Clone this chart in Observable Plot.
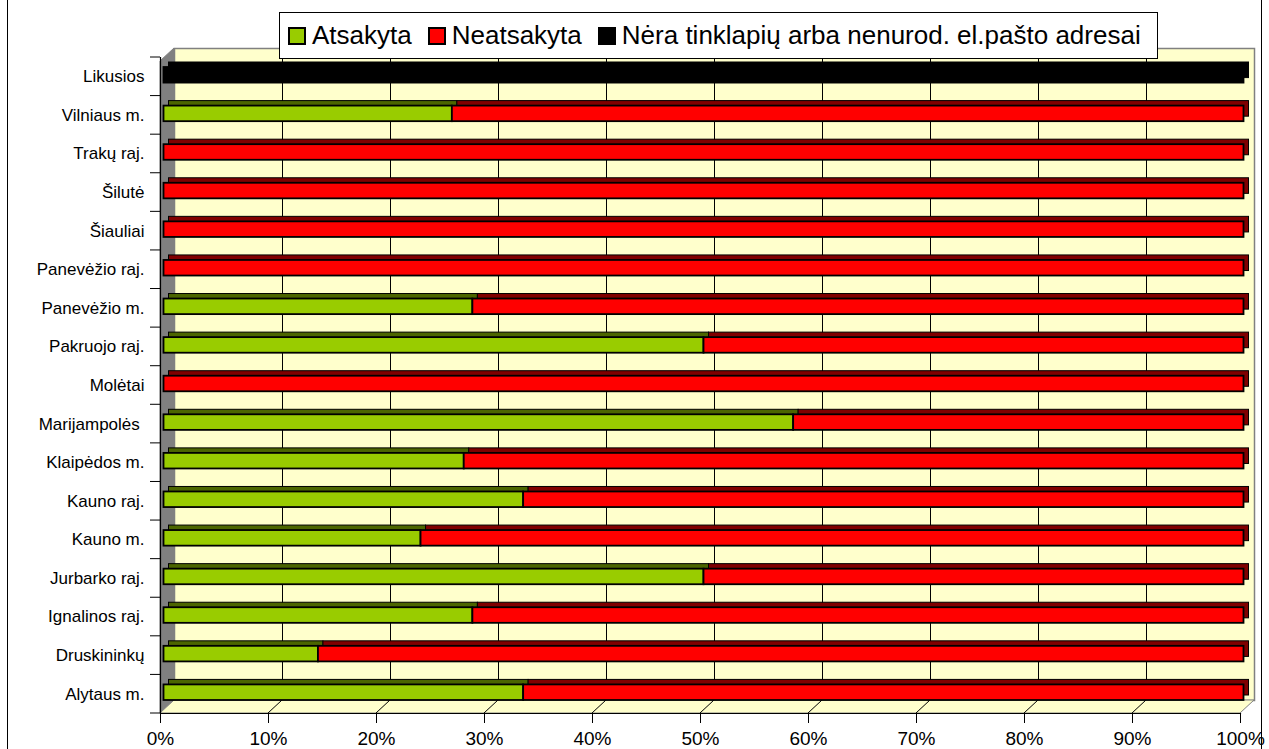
<!DOCTYPE html>
<html>
<head>
<meta charset="utf-8">
<script src="https://cdn.jsdelivr.net/npm/d3@7"></script>
<script src="https://cdn.jsdelivr.net/npm/@observablehq/plot@0.6"></script>
<style>
  html, body { margin: 0; padding: 0; background: #fff; }
  #wrap { position: relative; width: 1269px; height: 749px; overflow: hidden; font-family: "Liberation Sans", Arial, sans-serif; }
  #border { position: absolute; left: 7px; top: -3px; width: 1255px; height: 760px; border: 1px solid #000; box-sizing: border-box; }
  #chart { position: absolute; left: 0; top: 0; }
  #legend { position: absolute; left: 279px; top: 12px; width: 879px; height: 47px; box-sizing: border-box;
            border: 1px solid #000; background: #fff; display: flex; align-items: center; padding-left: 8px;
            font-size: 26px; color: #000; white-space: nowrap; }
  .item { display: flex; align-items: center; margin-right: 16px; }
  .sw { width: 14px; height: 14px; border: 2px solid #000; margin-right: 6px; }
</style>
</head>
<body>
<div id="wrap">
  <div id="border"></div>
  <div id="chart"></div>
  <div id="legend"></div>
</div>
<script>
const categories = ["Likusios","Vilniaus m.","Trakų raj.","Šilutė","Šiauliai","Panevėžio raj.","Panevėžio m.","Pakruojo raj.","Molėtai","Marijampolės ","Klaipėdos m.","Kauno raj.","Kauno m.","Jurbarko raj.","Ignalinos raj.","Druskininkų","Alytaus m."];
const atsakyta   = [0, 26.7, 0, 0, 0, 0, 28.6, 50, 0, 58.3, 27.8, 33.3, 23.8, 50, 28.6, 14.3, 33.3];
const neatsakyta = [0, 73.3, 100, 100, 100, 100, 71.4, 50, 100, 41.7, 72.2, 66.7, 76.2, 50, 71.4, 85.7, 66.7];
const nera       = [100, 0, 0, 0, 0, 0, 0, 0, 0, 0, 0, 0, 0, 0, 0, 0, 0];
const seriesNames = ["Atsakyta", "Neatsakyta", "Nėra tinklapių arba nenurod. el.pašto adresai"];
const seriesValues = [atsakyta, neatsakyta, nera];
const frontColors = ["#99CC00", "#FF0000", "#000000"];
const topColors = ["#4C6600", "#800000", "#000000"];
const xTicks = [0, 10, 20, 30, 40, 50, 60, 70, 80, 90, 100];

const data = [];
seriesNames.forEach((s, si) => {
  categories.forEach((c, ci) => {
    const v = seriesValues[si][ci];
    if (v > 0) data.push({cat: c, series: s, si, value: v});
  });
});

const DX = 14, DY = -13;

function decor(index, scales, values, dimensions) {
  const x = scales.x, y = scales.y;
  const {marginTop, marginBottom, height} = dimensions;
  const x0 = x(0), x1 = x(100);
  const yb = height - marginBottom;
  const yt = marginTop + 4;
  const g = d3.create("svg:g");
  // left wall
  g.append("polygon")
    .attr("points", [[x0, yt], [x0 + DX, yt + DY], [x0 + DX, yb + DY], [x0, yb]].map(p => p.join(",")).join(" "))
    .attr("fill", "#808080").attr("stroke", "#808080");
  // floor
  g.append("polygon")
    .attr("points", [[x0, yb], [x0 + DX, yb + DY], [x1 + DX, yb + DY], [x1, yb]].map(p => p.join(",")).join(" "))
    .attr("fill", "#FFFFCC").attr("stroke", "#808080");
  // floor grid diagonals
  xTicks.slice(1, -1).forEach(v => {
    g.append("line").attr("x1", x(v)).attr("y1", yb).attr("x2", x(v) + DX).attr("y2", yb + DY)
      .attr("stroke", "#000").attr("stroke-width", 1);
  });
  // category boundary ticks
  const bw = y.bandwidth();
  const bounds = categories.map(c => y(c)).concat([y(categories[categories.length - 1]) + bw]);
  bounds.forEach(b => {
    g.append("line").attr("x1", x0 - 10).attr("x2", x0).attr("y1", b).attr("y2", b)
      .attr("stroke", "#000").attr("stroke-width", 1);
  });
  return g.node();
}

const plot = Plot.plot({
  width: 1269,
  height: 749,
  marginLeft: 160,
  marginRight: 29,
  marginTop: 57,
  marginBottom: 36,
  style: {fontFamily: "'Liberation Sans', Arial, sans-serif", color: "#000", background: "transparent"},
  x: {domain: [0, 100], axis: null, label: null},
  y: {domain: categories, padding: 0, round: false, axis: null, label: null},
  color: {type: "identity"},
  marks: [
    Plot.frame({fill: "#FFFFCC", stroke: "#808080", strokeWidth: 1.5, dx: DX, dy: DY, insetTop: 4}),
    Plot.ruleX(xTicks.slice(1, -1), {dx: DX, dy: DY, insetTop: 4, stroke: "#000", strokeWidth: 1}),
    decor,
    Plot.barX(data, {x: "value", y: "cat", fill: d => topColors[d.si], z: "si", order: "z",
      stroke: "#000", strokeWidth: 1, dx: 8.5, dy: -5, insetTop: 10, insetBottom: 13}),
    Plot.barX(data, {x: "value", y: "cat", fill: d => frontColors[d.si], z: "si", order: "z",
      stroke: "#000", strokeWidth: 1.8, dx: 3.5, insetTop: 10, insetBottom: 13}),
    Plot.ruleX([0], {stroke: "#000", strokeWidth: 1.2}),
    Plot.frame({anchor: "bottom", stroke: "#000", strokeWidth: 1.2}),
    Plot.axisX({ticks: xTicks, tickFormat: d => d + "%", tickSize: 10, tickPadding: 8, fontSize: 19, label: null}),
    Plot.axisY({tickSize: 0, tickPadding: 16, fontSize: 17, label: null})
  ]
});
document.getElementById("chart").appendChild(plot);

const legend = d3.select("#legend");
seriesNames.forEach((s, i) => {
  const it = legend.append("div").attr("class", "item");
  it.append("div").attr("class", "sw").style("background", frontColors[i]);
  it.append("span").text(s);
});
</script>
</body>
</html>
